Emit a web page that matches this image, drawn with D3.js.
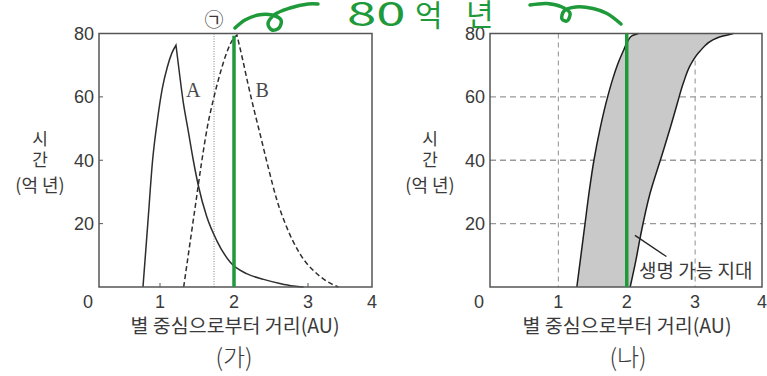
<!DOCTYPE html>
<html>
<head>
<meta charset="utf-8">
<script src="https://cdn.jsdelivr.net/npm/d3@7/dist/d3.min.js"></script>
<style>
  html, body { margin: 0; padding: 0; background: #fff; }
  svg { display: block; }
  .num { font-family: "Liberation Sans", Arial, sans-serif; fill: #3a3a3a; }
  .kor { font-family: "Noto Sans CJK KR", sans-serif; fill: #3a3a3a; }
  .ser { font-family: "Liberation Serif", serif; fill: #4a4a4a; }
</style>
</head>
<body>
<svg id="chart" width="767" height="376"></svg>
<script>
// ---- data ----
// (가) curve A: distance from star (AU) vs time (억 년); rising branch then falling branch
const distA = [0.77, 0.835, 0.90, 0.97, 1.03, 1.10, 1.16, 1.216, 1.26, 1.31, 1.38, 1.45, 1.52, 1.63, 1.77, 1.95, 2.17, 2.40, 2.62, 2.80, 2.94];
const timeA = [0, 20, 40, 53.5, 62.5, 69.5, 73.8, 76.3, 68, 59, 49.5, 40, 31.8, 22.3, 14.5, 7.8, 4.2, 2.4, 1.1, 0.3, 0];
const peakA = 7;
// (가) curve B (dashed)
const distB = [1.32, 1.40, 1.48, 1.56, 1.64, 1.73, 1.82, 1.91, 1.98, 2.04, 2.11, 2.19, 2.27, 2.35, 2.46, 2.58, 2.71, 2.89, 3.12, 3.30, 3.41];
const timeB = [0, 13, 26, 39, 50.5, 60, 68, 74.5, 78, 79.5, 72.5, 64, 56, 48.5, 38, 27.4, 19, 10.5, 4.2, 1.2, 0];
const peakB = 9;
// position of ㉠
const markerDist = 1.73;
// green reference line
const greenDist = 2;

// (나) habitable zone boundaries (inner / outer edge)
const innerDist = [1.27, 1.33, 1.39, 1.45, 1.52, 1.61, 1.72, 1.80, 1.88, 1.96, 2.02, 2.08, 2.17];
const innerTime = [0, 10, 20, 30, 40, 50, 60, 66, 71, 75, 77.8, 79.3, 80];
const outerDist = [2.05, 2.13, 2.20, 2.34, 2.52, 2.64, 2.74, 2.83, 2.93, 3.07, 3.32, 3.56];
const outerTime = [0, 8, 16, 29.5, 42, 50.5, 58, 64.5, 70, 74.4, 78.6, 80];

// axis ticks
const xTicks = [0, 1, 2, 3, 4];
const yTicks = [20, 40, 60, 80];
const gridX = [1, 2, 3];
const gridY = [20, 40, 60];

// labels
const xTitle = "별 중심으로부터 거리(AU)";
const yTitle = ["시", "간", "(억 년)"];
const zoneLabel = "생명 가능 지대";
const note = { num: "80", unit: ["억", "년"] };

// ---- drawing ----
const svg = d3.select("#chart");
const green = "#1f9a3a";
const ink = "#2e2e2e";

const y = d3.scaleLinear().domain([0, 80]).range([287, 33.5]);

function frame(g, x0, x1) {
  g.append("rect")
    .attr("x", x0).attr("y", y(80))
    .attr("width", x1 - x0).attr("height", y(0) - y(80))
    .attr("fill", "none").attr("stroke", "#555").attr("stroke-width", 1.5);
}

function yAxisTitle(g, cx) {
  g.append("text").attr("class", "kor").attr("x", cx).attr("y", 145)
    .attr("text-anchor", "middle").attr("font-size", 17).text(yTitle[0]);
  g.append("text").attr("class", "kor").attr("x", cx).attr("y", 166)
    .attr("text-anchor", "middle").attr("font-size", 17).text(yTitle[1]);
  g.append("text").attr("class", "kor").attr("x", cx).attr("y", 192)
    .attr("text-anchor", "middle").attr("font-size", 18).text(yTitle[2]);
}

function tickLabels(g, x, left, right) {
  xTicks.forEach(v => {
    let px = x(v);
    if (v === 0) px = left - 11;
    if (v === 4) px = right;
    g.append("text").attr("class", "num").attr("x", px).attr("y", 308)
      .attr("text-anchor", "middle").attr("font-size", 18).text(v);
  });
  yTicks.forEach(v => {
    g.append("text").attr("class", "num").attr("x", left - 5).attr("y", y(v) + 6.5)
      .attr("text-anchor", "end").attr("font-size", 18).text(v);
  });
}

// ---------- (가) ----------
const gA = svg.append("g");
const xA = d3.scaleLinear().domain([0, 4]).range([86, 382]);
const leftA = 99, rightA = 372;

// marker line ㉠
gA.append("line")
  .attr("x1", xA(markerDist)).attr("x2", xA(markerDist))
  .attr("y1", y(80)).attr("y2", y(0))
  .attr("stroke", "#777").attr("stroke-width", 0.9).attr("stroke-dasharray", "1,1.5");
gA.append("text").attr("class", "kor").attr("x", xA(markerDist)).attr("y", 27)
  .attr("text-anchor", "middle").attr("font-size", 19).text("㉠");

const lineA = d3.line().x(d => xA(d[0])).y(d => y(d[1])).curve(d3.curveMonotoneX);
function peaked(dist, time, peak) {
  const pts = dist.map((d, i) => [d, time[i]]);
  return lineA(pts.slice(0, peak + 1)) + lineA(pts.slice(peak)).replace(/^M/, "L");
}

gA.append("path").attr("d", peaked(distA, timeA, peakA))
  .attr("fill", "none").attr("stroke", ink).attr("stroke-width", 1.5);
gA.append("path").attr("d", peaked(distB, timeB, peakB))
  .attr("fill", "none").attr("stroke", ink).attr("stroke-width", 1.5)
  .attr("stroke-dasharray", "5,3");

// inner tick marks
gridX.forEach(v => {
  gA.append("line").attr("x1", xA(v)).attr("x2", xA(v)).attr("y1", y(0)).attr("y2", y(0) - 4)
    .attr("stroke", "#555").attr("stroke-width", 1);
});
gridY.forEach(v => {
  gA.append("line").attr("x1", leftA).attr("x2", leftA + 4).attr("y1", y(v)).attr("y2", y(v))
    .attr("stroke", "#555").attr("stroke-width", 1);
});

frame(gA, leftA, rightA);

gA.append("text").attr("class", "ser").attr("x", xA(1.45)).attr("y", 97)
  .attr("text-anchor", "middle").attr("font-size", 20).text("A");
gA.append("text").attr("class", "ser").attr("x", xA(2.38)).attr("y", 97)
  .attr("text-anchor", "middle").attr("font-size", 20).text("B");

gA.append("line")
  .attr("x1", xA(greenDist)).attr("x2", xA(greenDist))
  .attr("y1", y(79.3)).attr("y2", y(0))
  .attr("stroke", green).attr("stroke-width", 3.5);

tickLabels(gA, xA, leftA, rightA);
yAxisTitle(gA, 40);
gA.append("text").attr("class", "kor").attr("x", 235).attr("y", 333)
  .attr("text-anchor", "middle").attr("font-size", 19.5).text(xTitle);
gA.append("text").attr("class", "kor").attr("x", 234).attr("y", 366)
  .attr("text-anchor", "middle").attr("font-size", 24).attr("font-weight", 300).text("(가)");

// ---------- (나) ----------
const gB = svg.append("g");
const leftB = 490, rightB = 762;
const xB = d3.scaleLinear().domain([0, 4]).range([leftB, 763.5]);

gridX.forEach(v => {
  gB.append("line").attr("x1", xB(v)).attr("x2", xB(v)).attr("y1", y(80)).attr("y2", y(0))
    .attr("stroke", "#999").attr("stroke-width", 1.1).attr("stroke-dasharray", "5,4");
});
gridY.forEach(v => {
  gB.append("line").attr("x1", leftB).attr("x2", rightB).attr("y1", y(v)).attr("y2", y(v))
    .attr("stroke", "#999").attr("stroke-width", 1.3).attr("stroke-dasharray", "6,4");
});

const lineB = d3.line().x(d => xB(d[0])).y(d => y(d[1])).curve(d3.curveMonotoneY);
const inner = innerDist.map((d, i) => [d, innerTime[i]]);
const outer = outerDist.map((d, i) => [d, outerTime[i]]);

// shaded zone: inner edge upward, outer edge back down
const zonePath = lineB(inner) + lineB(outer.slice().reverse()).replace(/^M/, "L") + "Z";
gB.append("path").attr("d", zonePath).attr("fill", "#c9c9c9").attr("stroke", "none");
gB.append("path").datum(inner).attr("d", lineB).attr("fill", "none").attr("stroke", "#1e1e1e").attr("stroke-width", 1.5);
gB.append("path").datum(outer).attr("d", lineB).attr("fill", "none").attr("stroke", "#1e1e1e").attr("stroke-width", 1.5);

frame(gB, leftB, rightB);

gB.append("line")
  .attr("x1", xB(greenDist)).attr("x2", xB(greenDist))
  .attr("y1", y(80)).attr("y2", y(0))
  .attr("stroke", green).attr("stroke-width", 3.5);

// zone label with leader
gB.append("line")
  .attr("x1", xB(2.12)).attr("y1", y(16.3))
  .attr("x2", xB(2.58)).attr("y2", y(9.6))
  .attr("stroke", "#222").attr("stroke-width", 1.3);
gB.append("text").attr("class", "kor").attr("x", 639).attr("y", 278)
  .attr("font-size", 19).text(zoneLabel);

tickLabels(gB, xB, leftB, rightB);
yAxisTitle(gB, 430);
gB.append("text").attr("class", "kor").attr("x", 627).attr("y", 333)
  .attr("text-anchor", "middle").attr("font-size", 19.5).text(xTitle);
gB.append("text").attr("class", "kor").attr("x", 628).attr("y", 366)
  .attr("text-anchor", "middle").attr("font-size", 24).attr("font-weight", 300).text("(나)");

// ---------- handwritten note ----------
const gN = svg.append("g");
const squiggleL = [[235, 28], [245, 20], [258, 15], [272, 15], [281, 20], [279, 28], [272, 30], [268, 24], [274, 15], [290, 8], [308, 4], [318, 4]];
const squiggleR = [[530, 5], [547, 3.5], [562, 7], [570, 13], [567, 21], [562, 19], [564, 11], [576, 7], [593, 8.5], [607, 13.5], [621, 24]];
const hand = d3.line().curve(d3.curveCatmullRom.alpha(0.5));
[squiggleL, squiggleR].forEach(pts => {
  gN.append("path").attr("d", hand(pts)).attr("fill", "none")
    .attr("stroke", green).attr("stroke-width", 3.5).attr("stroke-linecap", "round");
});
gN.append("text").attr("transform", "translate(347,26) scale(1.55,1)")
  .attr("font-family", "Noto Sans CJK KR, sans-serif").attr("fill", green)
  .attr("font-size", 34).attr("font-weight", 400).text(note.num);
gN.append("text").attr("x", 415).attr("y", 26)
  .attr("font-family", "Noto Sans CJK KR, sans-serif").attr("fill", green)
  .attr("font-size", 30).attr("font-weight", 400).text(note.unit[0]);
gN.append("text").attr("x", 466).attr("y", 25)
  .attr("font-family", "Noto Sans CJK KR, sans-serif").attr("fill", green)
  .attr("font-size", 30).attr("font-weight", 400).text(note.unit[1]);
</script>
</body>
</html>
